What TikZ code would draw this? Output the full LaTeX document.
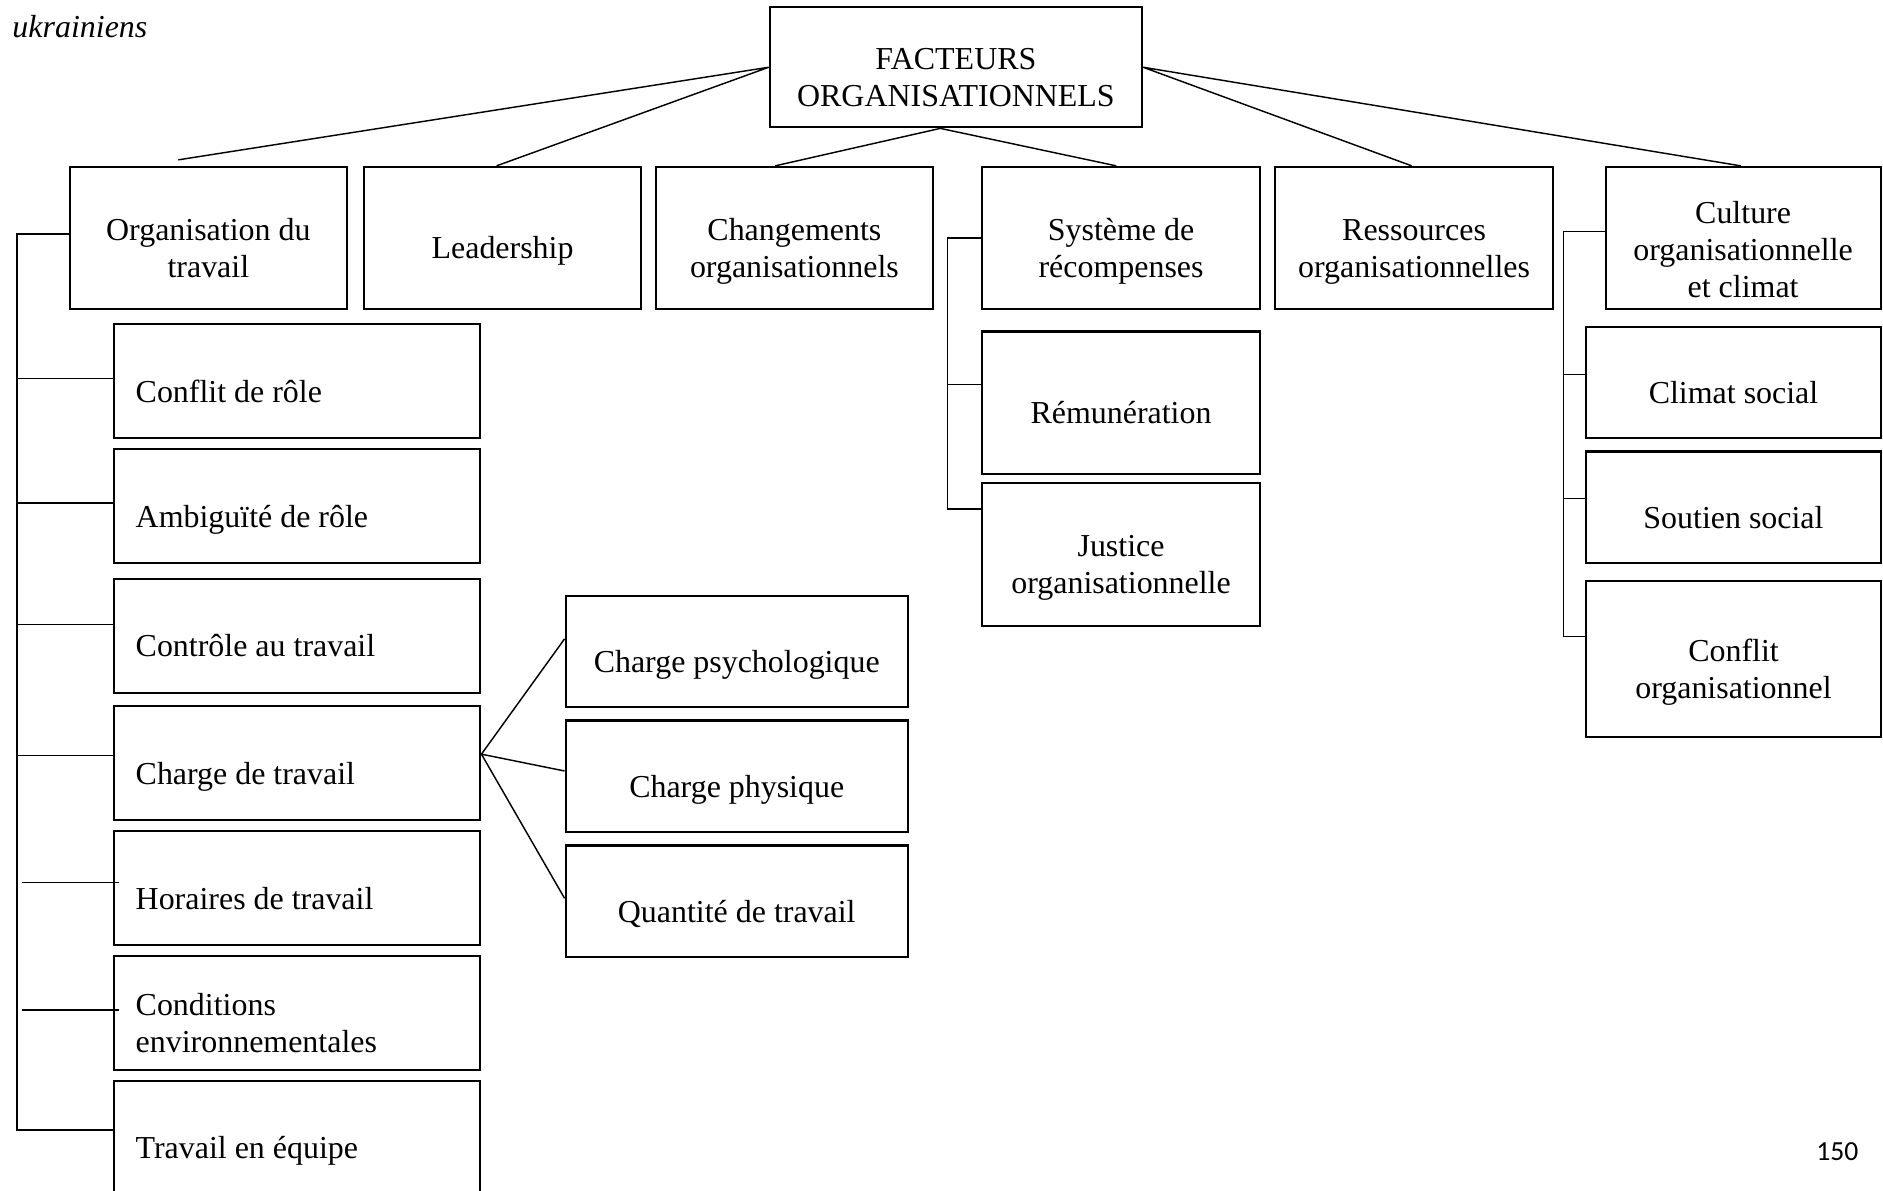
\documentclass[tikz,border=0pt]{standalone}
\usepackage{fontspec}
\setmainfont{Liberation Serif}
\newfontfamily\pagefont{Carlito}

\begin{document}
\begin{tikzpicture}[x=0.5pt,y=-0.5pt]
      \tikzset{
        box/.style={draw,line width=0.9pt,inner xsep=2pt,inner ysep=1pt,align=flush center,
          text height=20.5pt,text depth=3pt,
          font=\fontsize{13.3}{15.5}\selectfont},
        two/.style={text depth=18.5pt},
        three/.style={text depth=34pt},
        head/.style={box,text width=111.5pt,minimum width=115.5pt,minimum height=59pt},
        sub/.style={box,text width=134.5pt,inner xsep=9pt,minimum width=152.5pt,
          minimum height=47.5pt,align=flush left},
        load/.style={box,text width=138.5pt,minimum width=142.5pt,minimum height=46.5pt},
        reward/.style={box,text width=111.5pt,minimum width=115.5pt,minimum height=59.5pt},
        climate/.style={box,text width=118.5pt,minimum width=122.5pt,minimum height=46.5pt},
        link/.style={line width=0.6pt}
      }
      \useasboundingbox (0,0) rectangle (1568,991);
      \clip (0,0) rectangle (1568,991);

      \node[anchor=base west,inner sep=0pt,
        font=\fontsize{13.3}{15.5}\selectfont\itshape] (cap) at (10,31) {ukrainiens};
      \node[inner sep=0pt,font=\pagefont\fontsize{11.5}{14}\selectfont] (pg) at (1530,959) {150};

      \node[box,two,text width=151pt,minimum width=155pt,minimum height=50pt] (fo) at (796,56) {FACTEURS\\ORGANISATIONNELS};

      \node[head,two] (org) at (173.5,198) {Organisation du\\travail};
      \node[head,right of=org,node distance=122.5pt] (lead) {Leadership};
      \node[head,two,right of=lead,node distance=121.5pt] (chg) {Changements\\organisationnels};
      \node[head,two,right of=chg,node distance=136pt] (sys) {Système de\\récompenses};
      \node[head,two,right of=sys,node distance=122pt] (res) {Ressources\\organisationnelles};
      \node[head,three,right of=res,node distance=137pt,text width=110.5pt,minimum width=114.5pt,
        text height=22pt] (cul) {Culture\\organisationnelle\\et climat};

      \node[sub] (conf) at (247.5,317.5) {Conflit de rôle};
      \node[sub,below of=conf,node distance=52pt] (amb) {Ambiguïté de rôle};
      \node[sub,below of=amb,node distance=54pt] (ctrl) {Contrôle au travail};
      \node[sub,below of=ctrl,node distance=53pt] (chrg) {Charge de travail};
      \node[sub,below of=chrg,node distance=52pt] (hor) {Horaires de travail};
      \node[sub,two,below of=hor,node distance=52pt] (cond) {Conditions\\environnementales};
      \node[sub,below of=cond,node distance=52pt] (team) {Travail en équipe};

      \node[load] (psy) at (613.5,542.5) {Charge psychologique};
      \node[load,below of=psy,node distance=52pt] (phy) {Charge physique};
      \node[load,below of=phy,node distance=52pt] (qty) {Quantité de travail};

      \node[reward] (rem) at (933.5,335.5) {Rémunération};
      \node[reward,two,below of=rem,node distance=63pt] (jus) {Justice\\organisationnelle};

      \node[climate] (clim) at (1443.5,318.5) {Climat social};
      \node[climate,below of=clim,node distance=52pt] (sout) {Soutien social};
      \node[climate,two,below of=sout,node distance=63.25pt,minimum height=65pt] (cfo) {Conflit\\organisationnel};

      % top level
      \draw[link] (fo.west) -- ([xshift=-12.5pt,yshift=2.5pt]org.north)
                  (fo.west) -- ([xshift=-2.5pt]lead.north)
                  ([xshift=-6.5pt]fo.south) -- ([xshift=-8pt]chg.north)
                  ([xshift=-6.5pt]fo.south) -- ([xshift=-2pt]sys.north)
                  (fo.east) -- ([xshift=-1pt]res.north)
                  (fo.east) -- ([xshift=-1pt]cul.north);

      % organisation du travail
      \draw[link] ([yshift=1.5pt]org.west) -- ++(-21.5pt,0) |- ([yshift=3.25pt]team.west);
      \draw[link] ([yshift=1.25pt]conf.west) -- ++(-40pt,0)
                  ([yshift=1.25pt]amb.west) -- ++(-40pt,0)
                  ([yshift=4.75pt]ctrl.west) -- ++(-40pt,0)
                  ([yshift=3.25pt]chrg.west) -- ++(-40pt,0)
                  ([xshift=2.5pt,yshift=2.25pt]hor.west) -- ++(-40.5pt,0)
                  ([xshift=2.5pt,yshift=1.25pt]cond.west) -- ++(-40.5pt,0);

      \coordinate (fan) at ([yshift=3.75pt]chrg.east);
      \draw[link] (fan) -- ([yshift=5.25pt]psy.west)
                  (fan) -- ([yshift=2.25pt]phy.west)
                  (fan) -- ([yshift=1.25pt]qty.west);

      % recompenses
      \draw[link] (sys.west) -- ++(-14pt,0) |- ([yshift=18.75pt]jus.west);
      \draw[link] ([yshift=7.75pt]rem.west) -- ++(-14pt,0);

      % culture
      \draw[link] ([yshift=2.5pt]cul.west) -- ++(-17pt,0) |- ([yshift=9.5pt]cfo.west);
      \draw[link] ([yshift=3.25pt]clim.west) -- ++(-9pt,0)
                  ([yshift=3.75pt]sout.west) -- ++(-9pt,0);
\end{tikzpicture}
\end{document}
